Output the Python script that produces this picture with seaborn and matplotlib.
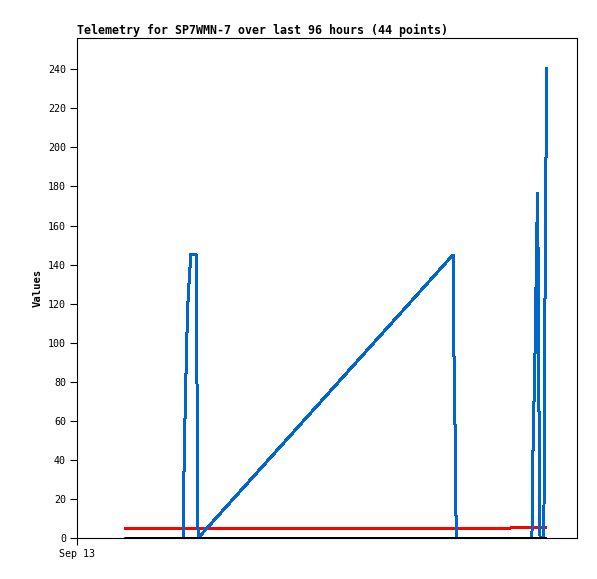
import pandas as pd
import matplotlib
matplotlib.use('Agg')
import matplotlib.pyplot as plt
import seaborn as sns

# Donnees (heures depuis Sep 13 00:00)
hours = [9.2, 10.4, 11.6, 12.7, 13.9, 15.0, 16.2, 17.3, 18.5, 19.6,
         20.35, 20.4, 20.6, 20.8, 21.05, 21.25, 21.5, 21.85, 22.85, 23.0, 23.1, 23.25,
         72.2, 72.3, 72.7, 72.8,
         82.0, 83.1, 83.45, 86.5,
         87.35, 87.4, 87.6, 87.9, 88.1, 88.3, 88.45, 88.55, 88.75, 88.9,
         89.65, 89.7, 90.0, 90.2]
blue_vals = [0, 0, 0, 0, 0, 0, 0, 0, 0, 0,
             0, 14, 42, 70, 98, 118, 130, 145, 145, 108, 36, 0,
             145, 108, 36, 0,
             0, 0, 0, 0,
             0, 18, 53, 88, 123, 159, 177, 132, 45, 0,
             0, 60, 180, 241]
red_vals = [4.8] * 28 + [5.6] * 16
black_vals = [0] * 44

data = pd.DataFrame({'hours': hours, 'blue': blue_vals, 'red': red_vals, 'black': black_vals})

sns.set_style('white')
plt.rcParams['font.family'] = ['DejaVu Sans Mono']
for k in ['text.color', 'axes.labelcolor', 'xtick.color', 'ytick.color']:
    plt.rcParams[k] = 'black'

fig = plt.figure(figsize=(5.97, 5.79), dpi=100)
ax = fig.add_axes([77 / 597, 41 / 579, 500 / 597, 500 / 579])

sns.lineplot(data=data, x='hours', y='red', color='#ff0000', linewidth=1.44, estimator=None, ax=ax)
sns.lineplot(data=data, x='hours', y='blue', color='#0066cc', linewidth=1.44, estimator=None, ax=ax)
sns.lineplot(data=data, x='hours', y='black', color='#000000', linewidth=1.44, estimator=None, ax=ax)
for line in ax.lines:
    line.set_clip_on(False)
    line.set_antialiased(False)
    line.set_solid_joinstyle('miter')
    line.set_solid_capstyle('butt')

ax.set_xlim(0, 96)
ax.set_ylim(0, 256)
ax.set_yticks(range(0, 241, 20))
ax.set_xticks([0])
ax.set_xticklabels(['Sep 13'])
ax.tick_params(direction='out', length=5, width=0.8, labelsize=7.2, color='black',
               left=True, bottom=True, pad=3)
for s in ax.spines.values():
    s.set_color('black')
    s.set_linewidth(0.8)

ax.set_xlabel('')
ax.set_ylabel('Values', fontsize=7.6, fontweight='bold')
ax.set_title('Telemetry for SP7WMN-7 over last 96 hours (44 points)', loc='left',
             fontsize=8.35, fontweight='bold', pad=3)

plt.savefig('out.png', dpi=100)
